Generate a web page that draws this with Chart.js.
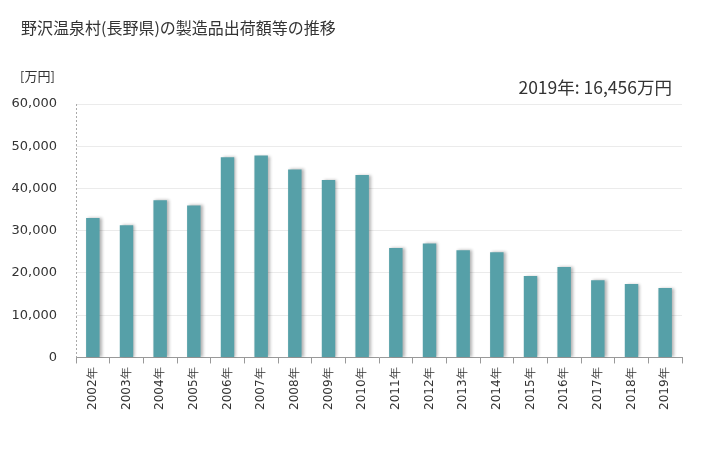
<!DOCTYPE html>
<html>
<head>
<meta charset="utf-8">
<script src="https://cdn.jsdelivr.net/npm/chart.js@4/dist/chart.umd.min.js"></script>
<style>
  body { margin: 0; background: #fff; }
  #wrap { position: relative; width: 728px; height: 450px; }
  #title { position: absolute; left: 21px; top: 15px; font: 16px "Noto Sans CJK JP", sans-serif; color: #333; }
  #unit { position: absolute; left: 20px; top: 66px; font: 13px "Noto Sans CJK JP", sans-serif; color: #333; }
  #latest { position: absolute; right: 56px; top: 74px; font: 17.5px "Noto Sans CJK JP", sans-serif; color: #333; }
</style>
</head>
<body>
<div id="wrap">
  <canvas id="canvas" width="728" height="450"></canvas>
  <div id="title">野沢温泉村(長野県)の製造品出荷額等の推移</div>
  <div id="unit">[万円]</div>
  <div id="latest">2019年: 16,456万円</div>
</div>
<script>
const years = ["2002年","2003年","2004年","2005年","2006年","2007年","2008年","2009年","2010年",
  "2011年","2012年","2013年","2014年","2015年","2016年","2017年","2018年","2019年"];
const values = [33000, 31300, 37200, 36000, 47400, 47800, 44500, 42000, 43200,
  25900, 27000, 25400, 24900, 19300, 21400, 18300, 17400, 16456];
const yTicks = [0, 10000, 20000, 30000, 40000, 50000, 60000];

// grey halo behind the bars
const shadowPlugin = {
  id: 'barShadow',
  beforeDatasetsDraw(chart) {
    const ctx = chart.ctx;
    ctx.save();
    ctx.shadowColor = 'rgba(0,0,0,0.3)';
    ctx.shadowBlur = 3;
    ctx.shadowOffsetX = 2;
    ctx.shadowOffsetY = 0;
  },
  afterDatasetsDraw(chart) {
    chart.ctx.restore();
  }
};

// dotted left axis line
const dottedAxis = {
  id: 'dottedAxis',
  afterDraw(chart) {
    const ctx = chart.ctx, a = chart.chartArea;
    ctx.save();
    ctx.strokeStyle = '#aaa';
    ctx.lineWidth = 1;
    ctx.setLineDash([2, 2]);
    ctx.beginPath();
    ctx.moveTo(a.left + 0.5, a.top);
    ctx.lineTo(a.left + 0.5, a.bottom);
    ctx.stroke();
    ctx.restore();
  }
};

new Chart(document.getElementById("canvas"), {
  type: 'bar',
  data: {
    labels: years,
    datasets: [{
      data: values,
      backgroundColor: "#56a0a8",
      barPercentage: 0.4,
      categoryPercentage: 1
    }]
  },
  options: {
    responsive: false,
    animation: false,
    layout: { padding: { top: 104, right: 46, bottom: 36, left: 0 } },
    plugins: { legend: { display: false }, tooltip: { enabled: false } },
    scales: {
      x: {
        offset: true,
        grid: { display: true, drawOnChartArea: false, drawTicks: true, tickLength: 6, color: '#999', offset: true },
        border: { color: '#999' },
        ticks: { maxRotation: 90, minRotation: 90, color: '#333', font: { family: 'DejaVu Sans', size: 12 }, padding: 4 }
      },
      y: {
        min: 0, max: 60000,
        afterBuildTicks(axis) { axis.ticks = yTicks.map(v => ({ value: v })); },
        afterFit(axis) { axis.width = 76; },
        grid: { color: '#ebebeb', drawTicks: false },
        border: { display: false },
        ticks: {
          color: '#333', font: { family: 'DejaVu Sans', size: 13 }, padding: 19,
          callback: v => v.toLocaleString('en-US')
        }
      }
    }
  },
  plugins: [shadowPlugin, dottedAxis]
});
</script>
</body>
</html>
